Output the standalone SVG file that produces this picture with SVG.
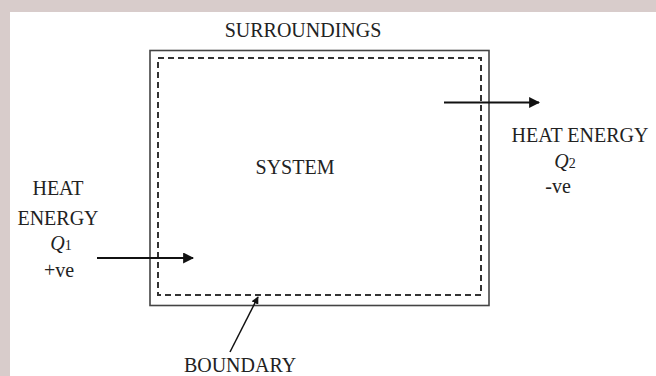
<svg xmlns="http://www.w3.org/2000/svg" width="656" height="376" viewBox="0 0 656 376">
<defs>
<style>
.t{font-family:"Liberation Serif","Times New Roman",serif;font-size:20px;fill:#222;text-anchor:middle}
.ln{stroke:#111;stroke-width:2.2;fill:none}
</style>
<marker id="ah" viewBox="0 0 10 10" refX="9" refY="5" markerWidth="5" markerHeight="5" orient="auto" markerUnits="strokeWidth">
<path d="M0,0 L10,5 L0,10 z" fill="#111"/>
</marker>
</defs>
<rect x="0" y="0" width="656" height="376" fill="#d8cccb"/>
<rect x="10" y="12" width="646" height="364" fill="#ffffff"/>
<g id="surroundings">
<text class="t" x="303" y="37">SURROUNDINGS</text>
</g>
<g id="boundary-box">
<rect x="150" y="50.5" width="339" height="255" fill="none" stroke="#444" stroke-width="1.6"/>
<rect x="158" y="58" width="323" height="237" fill="none" stroke="#333" stroke-width="2" stroke-dasharray="6 4"/>
</g>
<g id="system">
<text class="t" x="295" y="174">SYSTEM</text>
</g>
<g id="heat-in">
<text class="t" x="58" y="195">HEAT</text>
<text class="t" x="58" y="225">ENERGY</text>
<text class="t" x="61" y="250"><tspan font-style="italic">Q</tspan><tspan font-size="14">1</tspan></text>
<text class="t" x="59" y="277" font-size="18">+ve</text>
</g>
<g id="heat-out">
<text class="t" x="580" y="142">HEAT ENERGY</text>
<text class="t" x="565" y="168"><tspan font-style="italic">Q</tspan><tspan font-size="14">2</tspan></text>
<text class="t" x="558" y="193" font-size="18">-ve</text>
</g>
<g id="boundary-label">
<text class="t" x="240" y="372">BOUNDARY</text>
</g>
<g id="connectors">
<line class="ln" x1="97" y1="258" x2="193" y2="258" marker-end="url(#ah)"/>
<line class="ln" x1="444" y1="102.5" x2="539" y2="102.5" marker-end="url(#ah)"/>
<line x1="230" y1="352" x2="258" y2="297" stroke="#111" stroke-width="1.5" marker-end="url(#ah)"/>
</g>
</svg>
